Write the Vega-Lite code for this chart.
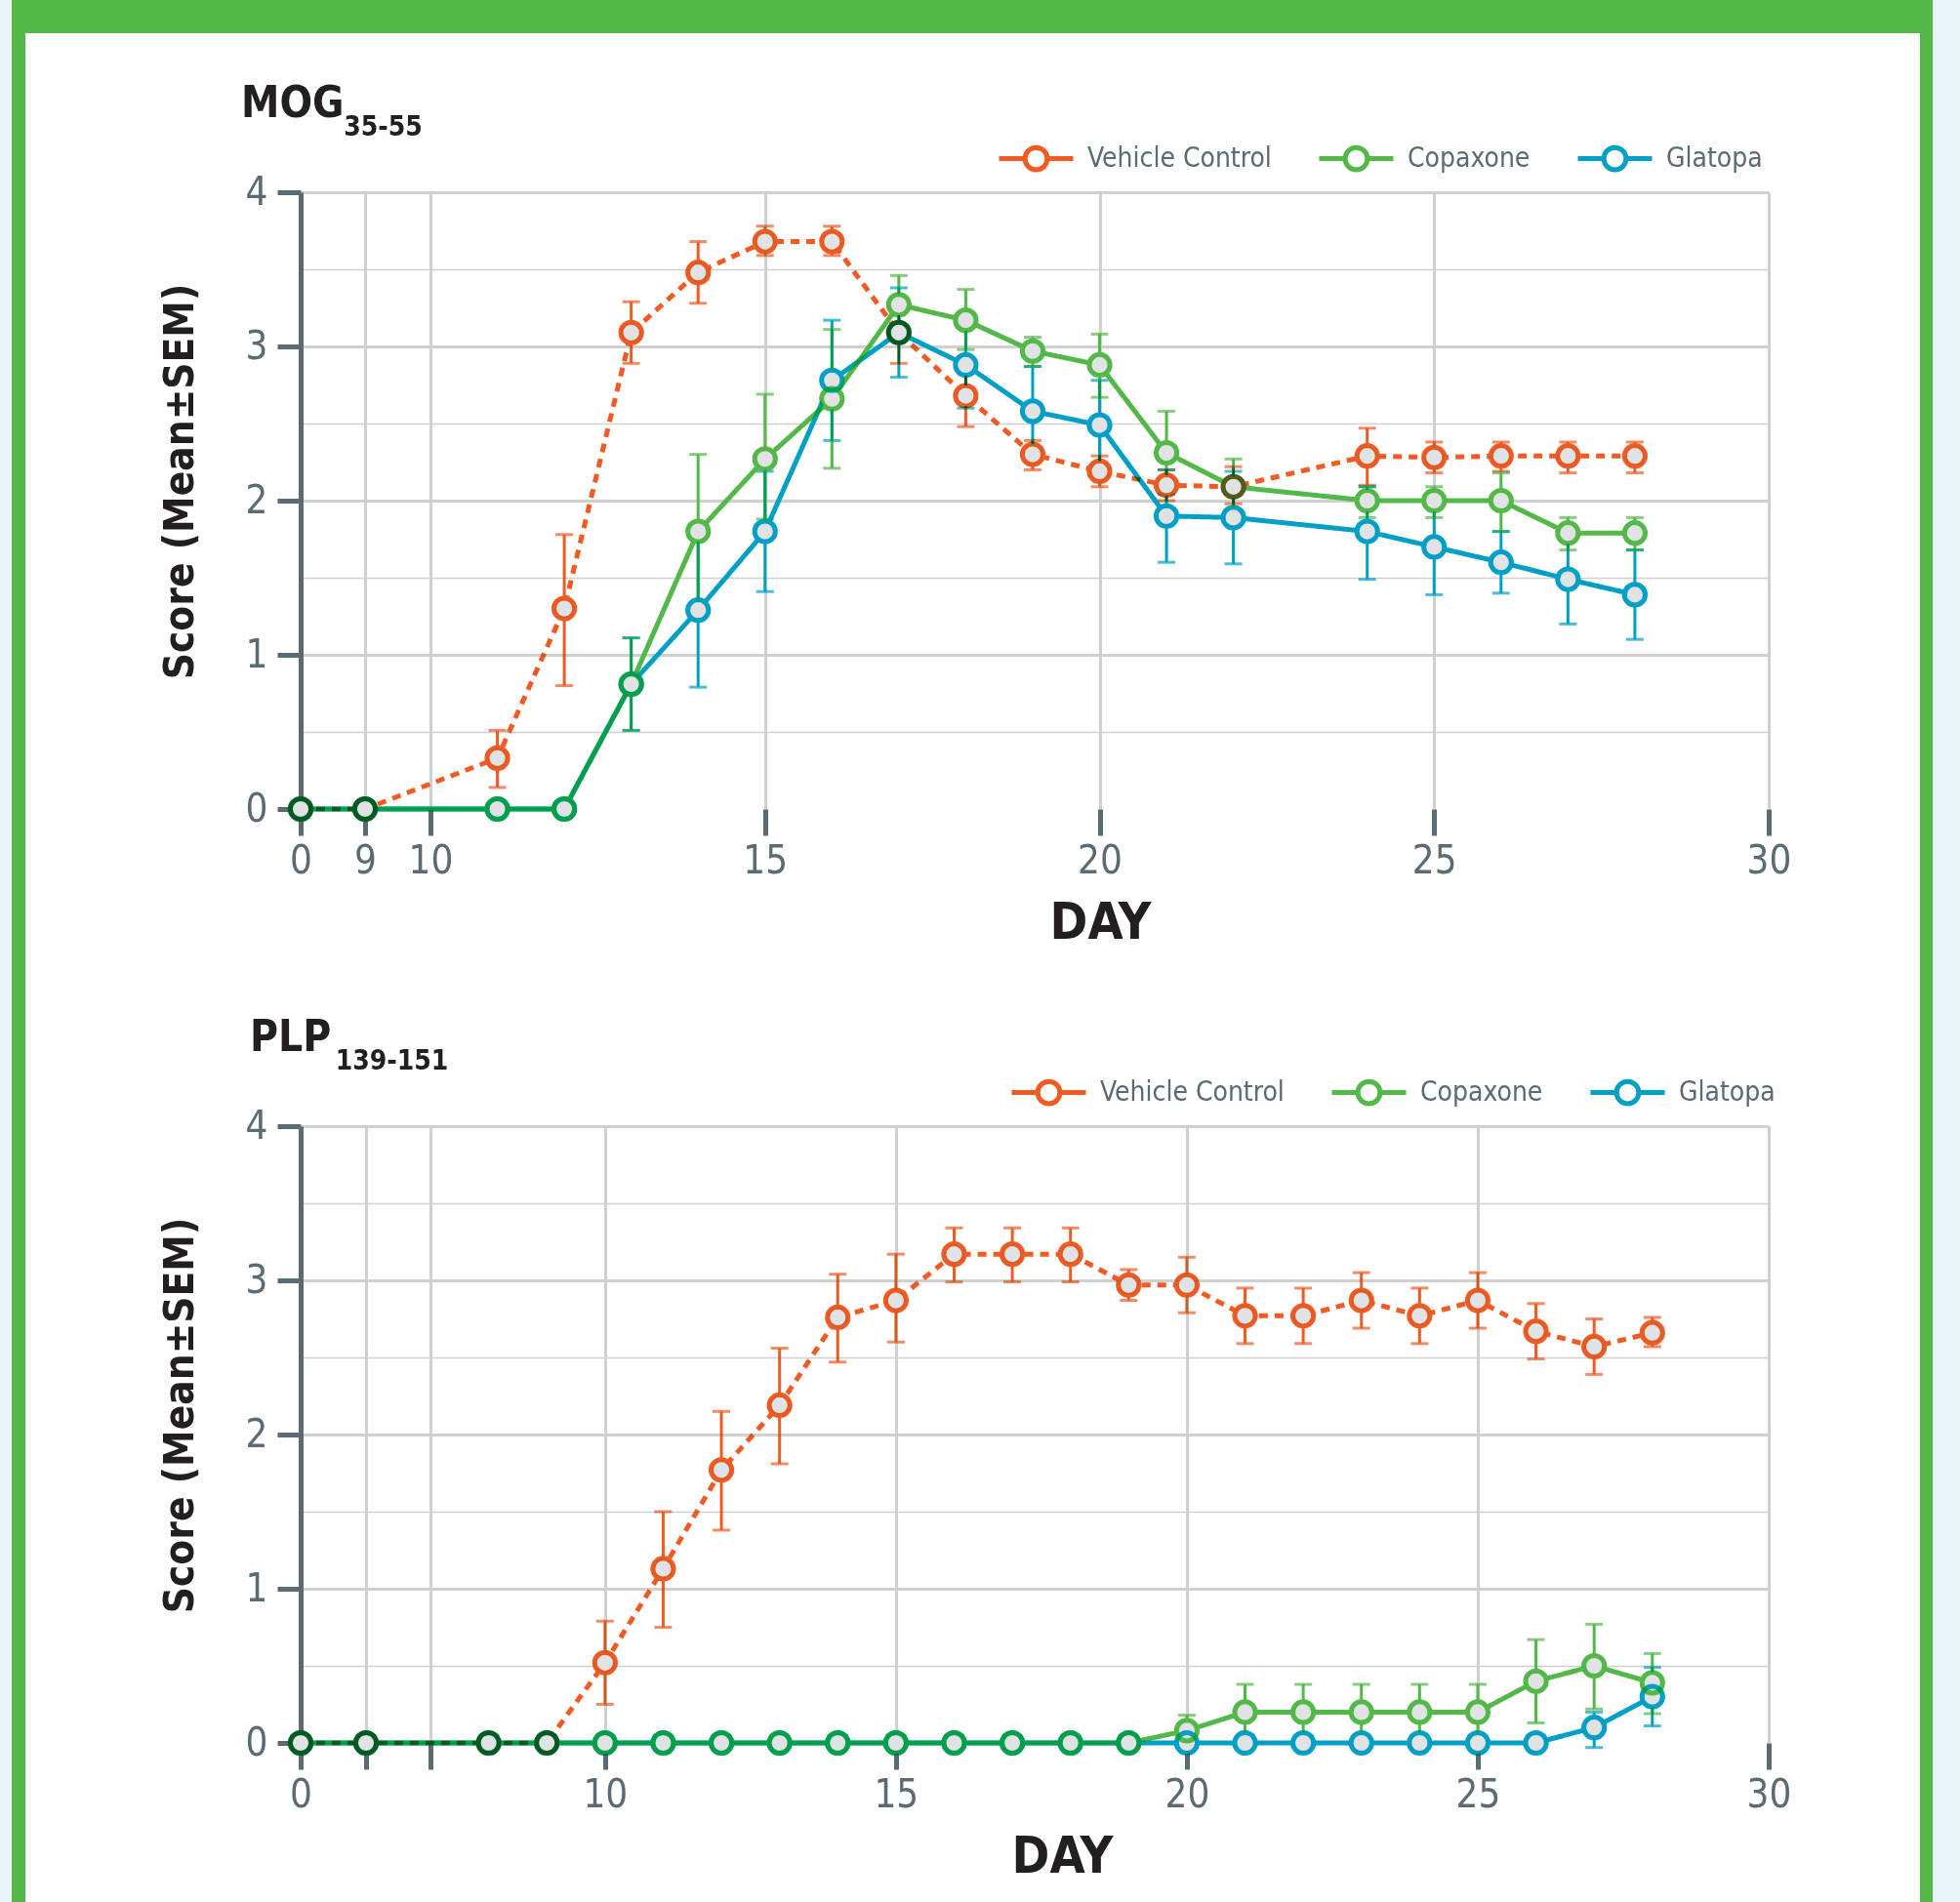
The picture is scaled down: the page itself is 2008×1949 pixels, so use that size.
{
  "$schema": "https://vega.github.io/schema/vega-lite/v6.json",
  "padding": 0,
  "background": "#ffffff",
  "spacing": 0,
  "resolve": {"scale": {"stroke": "independent", "color": "independent", "strokeDash": "independent"}, "legend": {"stroke": "independent", "color": "independent", "strokeDash": "independent"}},
  "datasets": {
    "mog": [
      {"series":"Vehicle Control","day":0,"score":0},
      {"series":"Vehicle Control","day":9,"score":0},
      {"series":"Vehicle Control","day":11,"score":0.33,"lo":0.14,"hi":0.51},
      {"series":"Vehicle Control","day":12,"score":1.30,"lo":0.80,"hi":1.78},
      {"series":"Vehicle Control","day":13,"score":3.09,"lo":2.89,"hi":3.29},
      {"series":"Vehicle Control","day":14,"score":3.48,"lo":3.28,"hi":3.68},
      {"series":"Vehicle Control","day":15,"score":3.68,"lo":3.59,"hi":3.78},
      {"series":"Vehicle Control","day":16,"score":3.68,"lo":3.59,"hi":3.78},
      {"series":"Vehicle Control","day":17,"score":3.09,"lo":2.89,"hi":3.29},
      {"series":"Vehicle Control","day":18,"score":2.68,"lo":2.48,"hi":2.88},
      {"series":"Vehicle Control","day":19,"score":2.30,"lo":2.20,"hi":2.39},
      {"series":"Vehicle Control","day":20,"score":2.19,"lo":2.09,"hi":2.29},
      {"series":"Vehicle Control","day":21,"score":2.10,"lo":2.00,"hi":2.20},
      {"series":"Vehicle Control","day":22,"score":2.09,"lo":1.98,"hi":2.22},
      {"series":"Vehicle Control","day":24,"score":2.29,"lo":2.10,"hi":2.47},
      {"series":"Vehicle Control","day":25,"score":2.28,"lo":2.18,"hi":2.38},
      {"series":"Vehicle Control","day":26,"score":2.29,"lo":2.19,"hi":2.38},
      {"series":"Vehicle Control","day":27,"score":2.29,"lo":2.18,"hi":2.38},
      {"series":"Vehicle Control","day":28,"score":2.29,"lo":2.18,"hi":2.38},
      {"series":"Copaxone","day":0,"score":0},
      {"series":"Copaxone","day":9,"score":0},
      {"series":"Copaxone","day":11,"score":0},
      {"series":"Copaxone","day":12,"score":0},
      {"series":"Copaxone","day":13,"score":0.81,"lo":0.51,"hi":1.11},
      {"series":"Copaxone","day":14,"score":1.80,"lo":1.30,"hi":2.30},
      {"series":"Copaxone","day":15,"score":2.27,"lo":1.88,"hi":2.69},
      {"series":"Copaxone","day":16,"score":2.66,"lo":2.21,"hi":3.11},
      {"series":"Copaxone","day":17,"score":3.27,"lo":3.08,"hi":3.46},
      {"series":"Copaxone","day":18,"score":3.17,"lo":2.98,"hi":3.37},
      {"series":"Copaxone","day":19,"score":2.97,"lo":2.87,"hi":3.06},
      {"series":"Copaxone","day":20,"score":2.88,"lo":2.67,"hi":3.08},
      {"series":"Copaxone","day":21,"score":2.31,"lo":2.04,"hi":2.58},
      {"series":"Copaxone","day":22,"score":2.09,"lo":1.90,"hi":2.27},
      {"series":"Copaxone","day":24,"score":2.00,"lo":1.89,"hi":2.09},
      {"series":"Copaxone","day":25,"score":2.00,"lo":1.89,"hi":2.09},
      {"series":"Copaxone","day":26,"score":2.00,"lo":1.80,"hi":2.18},
      {"series":"Copaxone","day":27,"score":1.79,"lo":1.68,"hi":1.89},
      {"series":"Copaxone","day":28,"score":1.79,"lo":1.68,"hi":1.89},
      {"series":"Glatopa","day":0,"score":0},
      {"series":"Glatopa","day":9,"score":0},
      {"series":"Glatopa","day":11,"score":0},
      {"series":"Glatopa","day":12,"score":0},
      {"series":"Glatopa","day":13,"score":0.81,"lo":0.51,"hi":1.11},
      {"series":"Glatopa","day":14,"score":1.29,"lo":0.79,"hi":1.78},
      {"series":"Glatopa","day":15,"score":1.80,"lo":1.41,"hi":2.19},
      {"series":"Glatopa","day":16,"score":2.78,"lo":2.39,"hi":3.17},
      {"series":"Glatopa","day":17,"score":3.09,"lo":2.80,"hi":3.38},
      {"series":"Glatopa","day":18,"score":2.88,"lo":2.60,"hi":3.17},
      {"series":"Glatopa","day":19,"score":2.58,"lo":2.29,"hi":2.87},
      {"series":"Glatopa","day":20,"score":2.49,"lo":2.18,"hi":2.78},
      {"series":"Glatopa","day":21,"score":1.90,"lo":1.60,"hi":2.20},
      {"series":"Glatopa","day":22,"score":1.89,"lo":1.59,"hi":2.19},
      {"series":"Glatopa","day":24,"score":1.80,"lo":1.49,"hi":2.09},
      {"series":"Glatopa","day":25,"score":1.70,"lo":1.39,"hi":2.00},
      {"series":"Glatopa","day":26,"score":1.60,"lo":1.40,"hi":1.80},
      {"series":"Glatopa","day":27,"score":1.49,"lo":1.20,"hi":1.79},
      {"series":"Glatopa","day":28,"score":1.39,"lo":1.10,"hi":1.68}
    ],
    "plp": [
      {"series":"Vehicle Control","day":0,"score":0},
      {"series":"Vehicle Control","day":6,"score":0},
      {"series":"Vehicle Control","day":8,"score":0},
      {"series":"Vehicle Control","day":9,"score":0},
      {"series":"Vehicle Control","day":10,"score":0.52,"lo":0.25,"hi":0.79},
      {"series":"Vehicle Control","day":11,"score":1.13,"lo":0.75,"hi":1.50},
      {"series":"Vehicle Control","day":12,"score":1.77,"lo":1.38,"hi":2.15},
      {"series":"Vehicle Control","day":13,"score":2.19,"lo":1.81,"hi":2.56},
      {"series":"Vehicle Control","day":14,"score":2.76,"lo":2.47,"hi":3.04},
      {"series":"Vehicle Control","day":15,"score":2.87,"lo":2.60,"hi":3.17},
      {"series":"Vehicle Control","day":16,"score":3.17,"lo":2.99,"hi":3.34},
      {"series":"Vehicle Control","day":17,"score":3.17,"lo":2.99,"hi":3.34},
      {"series":"Vehicle Control","day":18,"score":3.17,"lo":2.99,"hi":3.34},
      {"series":"Vehicle Control","day":19,"score":2.97,"lo":2.87,"hi":3.07},
      {"series":"Vehicle Control","day":20,"score":2.97,"lo":2.79,"hi":3.15},
      {"series":"Vehicle Control","day":21,"score":2.77,"lo":2.59,"hi":2.95},
      {"series":"Vehicle Control","day":22,"score":2.77,"lo":2.59,"hi":2.95},
      {"series":"Vehicle Control","day":23,"score":2.87,"lo":2.69,"hi":3.05},
      {"series":"Vehicle Control","day":24,"score":2.77,"lo":2.59,"hi":2.95},
      {"series":"Vehicle Control","day":25,"score":2.87,"lo":2.69,"hi":3.05},
      {"series":"Vehicle Control","day":26,"score":2.67,"lo":2.49,"hi":2.85},
      {"series":"Vehicle Control","day":27,"score":2.57,"lo":2.39,"hi":2.75},
      {"series":"Vehicle Control","day":28,"score":2.66,"lo":2.57,"hi":2.76},
      {"series":"Copaxone","day":0,"score":0},
      {"series":"Copaxone","day":6,"score":0},
      {"series":"Copaxone","day":8,"score":0},
      {"series":"Copaxone","day":9,"score":0},
      {"series":"Copaxone","day":10,"score":0},
      {"series":"Copaxone","day":11,"score":0},
      {"series":"Copaxone","day":12,"score":0},
      {"series":"Copaxone","day":13,"score":0},
      {"series":"Copaxone","day":14,"score":0},
      {"series":"Copaxone","day":15,"score":0},
      {"series":"Copaxone","day":16,"score":0},
      {"series":"Copaxone","day":17,"score":0},
      {"series":"Copaxone","day":18,"score":0},
      {"series":"Copaxone","day":19,"score":0},
      {"series":"Copaxone","day":20,"score":0.08,"lo":0.0,"hi":0.18},
      {"series":"Copaxone","day":21,"score":0.20,"lo":0.02,"hi":0.38},
      {"series":"Copaxone","day":22,"score":0.20,"lo":0.02,"hi":0.38},
      {"series":"Copaxone","day":23,"score":0.20,"lo":0.02,"hi":0.38},
      {"series":"Copaxone","day":24,"score":0.20,"lo":0.02,"hi":0.38},
      {"series":"Copaxone","day":25,"score":0.20,"lo":0.02,"hi":0.38},
      {"series":"Copaxone","day":26,"score":0.40,"lo":0.13,"hi":0.67},
      {"series":"Copaxone","day":27,"score":0.50,"lo":0.22,"hi":0.77},
      {"series":"Copaxone","day":28,"score":0.39,"lo":0.19,"hi":0.58},
      {"series":"Glatopa","day":0,"score":0},
      {"series":"Glatopa","day":6,"score":0},
      {"series":"Glatopa","day":8,"score":0},
      {"series":"Glatopa","day":9,"score":0},
      {"series":"Glatopa","day":10,"score":0},
      {"series":"Glatopa","day":11,"score":0},
      {"series":"Glatopa","day":12,"score":0},
      {"series":"Glatopa","day":13,"score":0},
      {"series":"Glatopa","day":14,"score":0},
      {"series":"Glatopa","day":15,"score":0},
      {"series":"Glatopa","day":16,"score":0},
      {"series":"Glatopa","day":17,"score":0},
      {"series":"Glatopa","day":18,"score":0},
      {"series":"Glatopa","day":19,"score":0},
      {"series":"Glatopa","day":20,"score":0},
      {"series":"Glatopa","day":21,"score":0},
      {"series":"Glatopa","day":22,"score":0},
      {"series":"Glatopa","day":23,"score":0},
      {"series":"Glatopa","day":24,"score":0},
      {"series":"Glatopa","day":25,"score":0},
      {"series":"Glatopa","day":26,"score":0},
      {"series":"Glatopa","day":27,"score":0.10,"lo":-0.03,"hi":0.20},
      {"series":"Glatopa","day":28,"score":0.30,"lo":0.11,"hi":0.49}
    ]
  },
  "hconcat": [
    {"width": 12, "height": 1949, "data": {"values": []}, "mark": "point", "view": {"fill": "#e9f5f8", "stroke": null}},
    {"width": 14, "height": 1949, "data": {"values": []}, "mark": "point", "view": {"fill": "#52b848", "stroke": null}},
    {
      "spacing": 51,
      "resolve": {"scale": {"stroke": "independent", "color": "independent", "strokeDash": "independent"}, "legend": {"stroke": "independent", "color": "independent", "strokeDash": "independent"}},
      "vconcat": [
        {"width": 1941, "height": 34, "data": {"values": []}, "mark": "point", "view": {"fill": "#52b848", "stroke": null}},
        {
          "spacing": 0,
          "resolve": {"scale": {"stroke": "independent", "color": "independent", "strokeDash": "independent"}, "legend": {"stroke": "independent", "color": "independent", "strokeDash": "independent"}},
          "hconcat": [
            {"width": 137, "height": 1, "data": {"values": []}, "mark": "point", "view": {"stroke": null}},
            {
              "spacing": 71,
              "resolve": {"scale": {"stroke": "independent", "color": "independent", "strokeDash": "independent"}, "legend": {"stroke": "independent", "color": "independent", "strokeDash": "independent"}},
              "vconcat": [
                {
                  "width": 1504, "height": 632,
                  "data": {"name": "mog"},
                  "title": {"text": "MOG", "subtitle": "\u200b\u00a0\u00a0\u00a0\u00a0\u00a0\u00a0\u00a0\u00a0\u00a0\u00a0\u00a0\u00a035-55", "dx": -61, "offset": -23},
                  "encoding": {
                    "x": {"field": "day", "type": "quantitative", "title": "DAY",
                      "scale": {"type": "linear", "domain": [0, 9, 10, 30], "range": [0, 66, 133, 1504], "nice": false, "zero": false},
                      "axis": {"values": [0, 9, 10, 15, 20, 25, 30], "format": "d", "titleX": 819}}
                  },
                  "layer": [
                    {"data": {"values": [{}]}, "mark": {"type": "rule", "color": "#5b6b73", "strokeWidth": 5}, "encoding": {"x": {"datum": 10}, "x2": {"datum": 30}, "y": {"datum": 0}}},
                    {"data": {"values": [{}]}, "mark": {"type": "rule", "color": "#5b6b73", "strokeWidth": 5}, "encoding": {"x": {"datum": 10}, "y": {"datum": 0}, "y2": {"datum": 0.127}}},
                    {"mark": {"type": "rule", "strokeWidth": 3, "blend": "darken"}, "encoding": {"y": {"field": "lo", "type": "quantitative", "title": "Score (Mean±SEM)"}, "y2": {"field": "hi"}, "color": {"field": "series", "type": "nominal", "scale": {"domain": ["Glatopa", "Copaxone", "Vehicle Control"], "range": ["#00a0c6", "#52b848", "#f15a22"]}, "legend": null}}},
                    {"mark": {"type": "tick", "orient": "horizontal", "size": 18, "thickness": 3, "blend": "darken"}, "encoding": {"y": {"field": "lo", "type": "quantitative", "title": "Score (Mean±SEM)"}, "color": {"field": "series", "type": "nominal", "scale": {"domain": ["Glatopa", "Copaxone", "Vehicle Control"], "range": ["#00a0c6", "#52b848", "#f15a22"]}, "legend": null}}},
                    {"mark": {"type": "tick", "orient": "horizontal", "size": 18, "thickness": 3, "blend": "darken"}, "encoding": {"y": {"field": "hi", "type": "quantitative", "title": "Score (Mean±SEM)"}, "color": {"field": "series", "type": "nominal", "scale": {"domain": ["Glatopa", "Copaxone", "Vehicle Control"], "range": ["#00a0c6", "#52b848", "#f15a22"]}, "legend": null}}},
                    {"mark": {"type": "line", "strokeWidth": 5, "blend": "darken"}, "encoding": {
                      "y": {"field": "score", "type": "quantitative", "title": "Score (Mean±SEM)", "scale": {"domain": [0, 4], "nice": false, "zero": false},
                        "axis": {"values": [0, 0.5, 1, 1.5, 2, 2.5, 3, 3.5, 4], "format": ".0f", "titleY": 296,
                          "labelExpr": "datum.value % 1 === 0 ? datum.label : ''",
                          "tickOpacity": {"condition": {"test": "datum.value % 1 !== 0", "value": 0}, "value": 1},
                          "gridWidth": {"condition": {"test": "datum.value % 1 === 0", "value": 3}, "value": 1.5},
                          "gridOpacity": {"condition": {"test": "datum.value === 0", "value": 0}, "value": 1}}},
                      "color": {"field": "series", "type": "nominal", "scale": {"domain": ["Glatopa", "Copaxone", "Vehicle Control"], "range": ["#00a0c6", "#52b848", "#f15a22"]}, "legend": null},
                      "strokeDash": {"field": "series", "type": "nominal", "scale": {"domain": ["Glatopa", "Copaxone", "Vehicle Control"], "range": [[1, 0], [1, 0], [9, 7]]}, "legend": null}}},
                    {"mark": {"type": "point", "shape": "circle", "size": 450, "filled": true, "fill": "#e1e2e4", "strokeWidth": 0, "opacity": 1}, "encoding": {"y": {"field": "score", "type": "quantitative", "title": "Score (Mean±SEM)"}}},
                    {"mark": {"type": "point", "shape": "circle", "size": 450, "filled": false, "strokeWidth": 5, "opacity": 1, "blend": "darken"}, "encoding": {
                      "y": {"field": "score", "type": "quantitative", "title": "Score (Mean±SEM)"},
                      "stroke": {"field": "series", "type": "nominal", "scale": {"domain": ["Vehicle Control", "Copaxone", "Glatopa"], "range": ["#f15a22", "#52b848", "#00a0c6"]},
                        "legend": {"orient": "none", "legendX": 713, "legendY": -75, "direction": "horizontal", "title": null, "padding": 0,
                          "symbolSize": 5776, "symbolStrokeWidth": 5, "symbolFillColor": "#e1e2e4", "symbolType": "M-1,0L-0.3,0M0.3,0L1,0M-0.3,0A0.3,0.3,0,1,1,0.3,0A0.3,0.3,0,1,1,-0.3,0Z",
                          "labelFont": "Liberation Sans Narrow, DejaVu Sans Condensed, sans-serif", "labelFontSize": 28, "labelColor": "#5b6b73", "labelOffset": 12, "labelLimit": 400, "columnPadding": 38,
                          "encode": {"symbols": {"shape": {"signal": "datum.value === 'Vehicle Control' ? 'M-1,0L-0.82,0M-0.56,0L-0.3,0M0.3,0L0.56,0M0.82,0L1,0M-0.3,0A0.3,0.3,0,1,1,0.3,0A0.3,0.3,0,1,1,-0.3,0Z' : 'M-1,0L-0.3,0M0.3,0L1,0M-0.3,0A0.3,0.3,0,1,1,0.3,0A0.3,0.3,0,1,1,-0.3,0Z'"}, "fill": {"value": "#e1e2e4"}, "fillOpacity": {"value": 1}, "opacity": {"value": 1}}}}}}}
                  ]
                },
                {
                  "width": 1504, "height": 632,
                  "data": {"name": "plp"},
                  "title": {"text": "PLP", "subtitle": "\u200b\u00a0\u00a0\u00a0\u00a0\u00a0\u00a0\u00a0\u00a0\u00a0\u00a0139-151", "dx": -52, "offset": -23},
                  "encoding": {
                    "x": {"field": "day", "type": "quantitative", "title": "DAY",
                      "scale": {"type": "linear", "domain": [0, 6, 7, 30], "range": [0, 67, 133, 1504], "nice": false, "zero": false},
                      "axis": {"values": [0, 6, 7, 10, 15, 20, 25, 30], "format": "d", "titleX": 780, "labelExpr": "datum.value === 6 || datum.value === 7 ? '' : datum.label"}}
                  },
                  "layer": [
                    {"data": {"values": [{}]}, "mark": {"type": "rule", "color": "#5b6b73", "strokeWidth": 5}, "encoding": {"x": {"datum": 7}, "x2": {"datum": 30}, "y": {"datum": 0}}},
                    {"data": {"values": [{}]}, "mark": {"type": "rule", "color": "#5b6b73", "strokeWidth": 5}, "encoding": {"x": {"datum": 7}, "y": {"datum": 0}, "y2": {"datum": 0.127}}},
                    {"mark": {"type": "rule", "strokeWidth": 3, "blend": "darken"}, "encoding": {"y": {"field": "lo", "type": "quantitative", "title": "Score (Mean±SEM)"}, "y2": {"field": "hi"}, "color": {"field": "series", "type": "nominal", "scale": {"domain": ["Glatopa", "Copaxone", "Vehicle Control"], "range": ["#00a0c6", "#52b848", "#f15a22"]}, "legend": null}}},
                    {"mark": {"type": "tick", "orient": "horizontal", "size": 18, "thickness": 3, "blend": "darken"}, "encoding": {"y": {"field": "lo", "type": "quantitative", "title": "Score (Mean±SEM)"}, "color": {"field": "series", "type": "nominal", "scale": {"domain": ["Glatopa", "Copaxone", "Vehicle Control"], "range": ["#00a0c6", "#52b848", "#f15a22"]}, "legend": null}}},
                    {"mark": {"type": "tick", "orient": "horizontal", "size": 18, "thickness": 3, "blend": "darken"}, "encoding": {"y": {"field": "hi", "type": "quantitative", "title": "Score (Mean±SEM)"}, "color": {"field": "series", "type": "nominal", "scale": {"domain": ["Glatopa", "Copaxone", "Vehicle Control"], "range": ["#00a0c6", "#52b848", "#f15a22"]}, "legend": null}}},
                    {"mark": {"type": "line", "strokeWidth": 5, "blend": "darken"}, "encoding": {
                      "y": {"field": "score", "type": "quantitative", "title": "Score (Mean±SEM)", "scale": {"domain": [0, 4], "nice": false, "zero": false},
                        "axis": {"values": [0, 0.5, 1, 1.5, 2, 2.5, 3, 3.5, 4], "format": ".0f", "titleY": 296,
                          "labelExpr": "datum.value % 1 === 0 ? datum.label : ''",
                          "tickOpacity": {"condition": {"test": "datum.value % 1 !== 0", "value": 0}, "value": 1},
                          "gridWidth": {"condition": {"test": "datum.value % 1 === 0", "value": 3}, "value": 1.5},
                          "gridOpacity": {"condition": {"test": "datum.value === 0", "value": 0}, "value": 1}}},
                      "color": {"field": "series", "type": "nominal", "scale": {"domain": ["Glatopa", "Copaxone", "Vehicle Control"], "range": ["#00a0c6", "#52b848", "#f15a22"]}, "legend": null},
                      "strokeDash": {"field": "series", "type": "nominal", "scale": {"domain": ["Glatopa", "Copaxone", "Vehicle Control"], "range": [[1, 0], [1, 0], [9, 7]]}, "legend": null}}},
                    {"mark": {"type": "point", "shape": "circle", "size": 450, "filled": true, "fill": "#e1e2e4", "strokeWidth": 0, "opacity": 1}, "encoding": {"y": {"field": "score", "type": "quantitative", "title": "Score (Mean±SEM)"}}},
                    {"mark": {"type": "point", "shape": "circle", "size": 450, "filled": false, "strokeWidth": 5, "opacity": 1, "blend": "darken"}, "encoding": {
                      "y": {"field": "score", "type": "quantitative", "title": "Score (Mean±SEM)"},
                      "stroke": {"field": "series", "type": "nominal", "scale": {"domain": ["Vehicle Control", "Copaxone", "Glatopa"], "range": ["#f15a22", "#52b848", "#00a0c6"]},
                        "legend": {"orient": "none", "legendX": 726, "legendY": -75, "direction": "horizontal", "title": null, "padding": 0,
                          "symbolSize": 5776, "symbolStrokeWidth": 5, "symbolFillColor": "#e1e2e4", "symbolType": "M-1,0L-0.3,0M0.3,0L1,0M-0.3,0A0.3,0.3,0,1,1,0.3,0A0.3,0.3,0,1,1,-0.3,0Z",
                          "labelFont": "Liberation Sans Narrow, DejaVu Sans Condensed, sans-serif", "labelFontSize": 28, "labelColor": "#5b6b73", "labelOffset": 12, "labelLimit": 400, "columnPadding": 38,
                          "encode": {"symbols": {"shape": {"signal": "datum.value === 'Vehicle Control' ? 'M-1,0L-0.82,0M-0.56,0L-0.3,0M0.3,0L0.56,0M0.82,0L1,0M-0.3,0A0.3,0.3,0,1,1,0.3,0A0.3,0.3,0,1,1,-0.3,0Z' : 'M-1,0L-0.3,0M0.3,0L1,0M-0.3,0A0.3,0.3,0,1,1,0.3,0A0.3,0.3,0,1,1,-0.3,0Z'"}, "fill": {"value": "#e1e2e4"}, "fillOpacity": {"value": 1}, "opacity": {"value": 1}}}}}}}
                  ]
                }
              ]
            }
          ]
        }
      ]
    },
    {"width": 13, "height": 1949, "data": {"values": []}, "mark": "point", "view": {"fill": "#52b848", "stroke": null}},
    {"width": 28, "height": 1949, "data": {"values": []}, "mark": "point", "view": {"fill": "#e9f5f8", "stroke": null}}
  ],
  "config": {
    "view": {"stroke": null},
    "axis": {
      "labelFont": "Liberation Sans Narrow, DejaVu Sans Condensed, sans-serif", "labelFontSize": 40, "labelColor": "#5b6b73",
      "titleFont": "Liberation Sans Narrow, DejaVu Sans Condensed, sans-serif", "titleFontWeight": "bold", "titleColor": "#231f20", "titleFontSize": 42,
      "tickColor": "#5b6b73", "tickWidth": 5, "gridColor": "#d0d0d0", "domainColor": "#5b6b73",
      "labelOverlap": false, "labelFlush": false, "grid": true
    },
    "axisX": {"domain": false, "tickSize": 27, "gridWidth": 3, "labelPadding": 6, "titleFontSize": 52, "titlePadding": 18},
    "axisY": {"domain": true, "domainWidth": 5, "tickSize": 24, "labelPadding": 10, "titlePadding": 45},
    "title": {
      "anchor": "start", "frame": "group",
      "font": "Liberation Sans Narrow, DejaVu Sans Condensed, sans-serif", "fontSize": 44, "fontWeight": "bold", "color": "#231f20",
      "subtitleFont": "Liberation Sans Narrow, DejaVu Sans Condensed, sans-serif", "subtitleFontSize": 28, "subtitleFontWeight": "bold", "subtitleColor": "#231f20", "subtitlePadding": -12
    }
  }
}
